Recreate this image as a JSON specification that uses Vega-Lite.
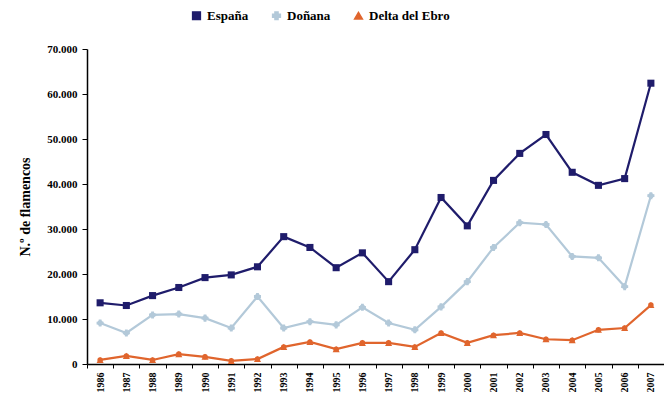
{
  "$schema": "https://vega.github.io/schema/vega-lite/v6.json",
  "width": 577,
  "height": 315,
  "autosize": {"type": "none"},
  "padding": {"left": 87, "top": 49, "right": 0, "bottom": 42},
  "background": "white",
  "config": {"view": {"stroke": null}, "font": "Liberation Serif"},
  "data": {"values": [
    {"year": "1986", "serie": "España", "value": 13600},
    {"year": "1987", "serie": "España", "value": 13000},
    {"year": "1988", "serie": "España", "value": 15200},
    {"year": "1989", "serie": "España", "value": 17000},
    {"year": "1990", "serie": "España", "value": 19200},
    {"year": "1991", "serie": "España", "value": 19800},
    {"year": "1992", "serie": "España", "value": 21600},
    {"year": "1993", "serie": "España", "value": 28300},
    {"year": "1994", "serie": "España", "value": 25900},
    {"year": "1995", "serie": "España", "value": 21400},
    {"year": "1996", "serie": "España", "value": 24700},
    {"year": "1997", "serie": "España", "value": 18300},
    {"year": "1998", "serie": "España", "value": 25400},
    {"year": "1999", "serie": "España", "value": 37000},
    {"year": "2000", "serie": "España", "value": 30700},
    {"year": "2001", "serie": "España", "value": 40800},
    {"year": "2002", "serie": "España", "value": 46800},
    {"year": "2003", "serie": "España", "value": 51000},
    {"year": "2004", "serie": "España", "value": 42600},
    {"year": "2005", "serie": "España", "value": 39700},
    {"year": "2006", "serie": "España", "value": 41200},
    {"year": "2007", "serie": "España", "value": 62400},
    {"year": "1986", "serie": "Doñana", "value": 9100},
    {"year": "1987", "serie": "Doñana", "value": 6900},
    {"year": "1988", "serie": "Doñana", "value": 10900},
    {"year": "1989", "serie": "Doñana", "value": 11100},
    {"year": "1990", "serie": "Doñana", "value": 10200},
    {"year": "1991", "serie": "Doñana", "value": 8000},
    {"year": "1992", "serie": "Doñana", "value": 15000},
    {"year": "1993", "serie": "Doñana", "value": 8000},
    {"year": "1994", "serie": "Doñana", "value": 9400},
    {"year": "1995", "serie": "Doñana", "value": 8700},
    {"year": "1996", "serie": "Doñana", "value": 12600},
    {"year": "1997", "serie": "Doñana", "value": 9100},
    {"year": "1998", "serie": "Doñana", "value": 7600},
    {"year": "1999", "serie": "Doñana", "value": 12700},
    {"year": "2000", "serie": "Doñana", "value": 18300},
    {"year": "2001", "serie": "Doñana", "value": 25900},
    {"year": "2002", "serie": "Doñana", "value": 31400},
    {"year": "2003", "serie": "Doñana", "value": 31000},
    {"year": "2004", "serie": "Doñana", "value": 23900},
    {"year": "2005", "serie": "Doñana", "value": 23600},
    {"year": "2006", "serie": "Doñana", "value": 17200},
    {"year": "2007", "serie": "Doñana", "value": 37400},
    {"year": "1986", "serie": "Delta del Ebro", "value": 900},
    {"year": "1987", "serie": "Delta del Ebro", "value": 1800},
    {"year": "1988", "serie": "Delta del Ebro", "value": 900},
    {"year": "1989", "serie": "Delta del Ebro", "value": 2200},
    {"year": "1990", "serie": "Delta del Ebro", "value": 1600},
    {"year": "1991", "serie": "Delta del Ebro", "value": 700},
    {"year": "1992", "serie": "Delta del Ebro", "value": 1100},
    {"year": "1993", "serie": "Delta del Ebro", "value": 3800},
    {"year": "1994", "serie": "Delta del Ebro", "value": 4900},
    {"year": "1995", "serie": "Delta del Ebro", "value": 3300},
    {"year": "1996", "serie": "Delta del Ebro", "value": 4700},
    {"year": "1997", "serie": "Delta del Ebro", "value": 4700},
    {"year": "1998", "serie": "Delta del Ebro", "value": 3800},
    {"year": "1999", "serie": "Delta del Ebro", "value": 6900},
    {"year": "2000", "serie": "Delta del Ebro", "value": 4700},
    {"year": "2001", "serie": "Delta del Ebro", "value": 6400},
    {"year": "2002", "serie": "Delta del Ebro", "value": 6900},
    {"year": "2003", "serie": "Delta del Ebro", "value": 5500},
    {"year": "2004", "serie": "Delta del Ebro", "value": 5300},
    {"year": "2005", "serie": "Delta del Ebro", "value": 7600},
    {"year": "2006", "serie": "Delta del Ebro", "value": 8000},
    {"year": "2007", "serie": "Delta del Ebro", "value": 13100}
  ]},
  "encoding": {
    "x": {
      "field": "year", "type": "ordinal", "bandPosition": 0.5,
      "scale": {"type": "band", "paddingInner": 0, "paddingOuter": 0},
      "axis": {
        "title": null, "labelAngle": -90, "labelAlign": "right", "labelBaseline": "middle",
        "labelFont": "Liberation Serif", "labelFontWeight": "bold", "labelFontSize": 10, "labelColor": "black",
        "tickBand": "extent", "tickSize": 4, "tickColor": "black", "domainColor": "black", "domainWidth": 1.5,
        "labelPadding": 4, "grid": false
      }
    },
    "y": {
      "field": "value", "type": "quantitative",
      "scale": {"domain": [0, 70000], "nice": false},
      "axis": {
        "title": "N.º de flamencos", "titleFont": "Liberation Serif", "titleFontWeight": "bold",
        "titleFontSize": 14, "titleColor": "black", "titlePadding": 14,
        "values": [0, 10000, 20000, 30000, 40000, 50000, 60000, 70000],
        "labelExpr": "replace(format(datum.value, ','), ',', '.')",
        "labelFont": "Liberation Serif", "labelFontWeight": "bold", "labelFontSize": 11, "labelColor": "black",
        "tickSize": 5, "tickColor": "black", "domainColor": "black", "domainWidth": 1.5, "grid": false,
        "labelPadding": 5
      }
    },
    "color": {
      "field": "serie", "type": "nominal",
      "scale": {"domain": ["España", "Doñana", "Delta del Ebro"], "range": ["#1f1c6b", "#b3c9d9", "#e0652d"]},
      "legend": {
        "title": null, "orient": "none", "direction": "horizontal", "legendX": 103, "legendY": -40,
        "labelFont": "Liberation Serif", "labelFontWeight": "bold", "labelFontSize": 13, "labelColor": "black",
        "symbolSize": 60, "columnPadding": 20
      }
    },
    "shape": {
      "field": "serie", "type": "nominal",
      "scale": {"domain": ["España", "Doñana", "Delta del Ebro"], "range": ["square", "cross", "triangle-up"]},
      "legend": null
    }
  },
  "layer": [
    {"mark": {"type": "line", "strokeWidth": 2.2}, "encoding": {"shape": {"value": null}}},
    {"mark": {"type": "point", "filled": true, "size": 50, "opacity": 1}}
  ]
}
